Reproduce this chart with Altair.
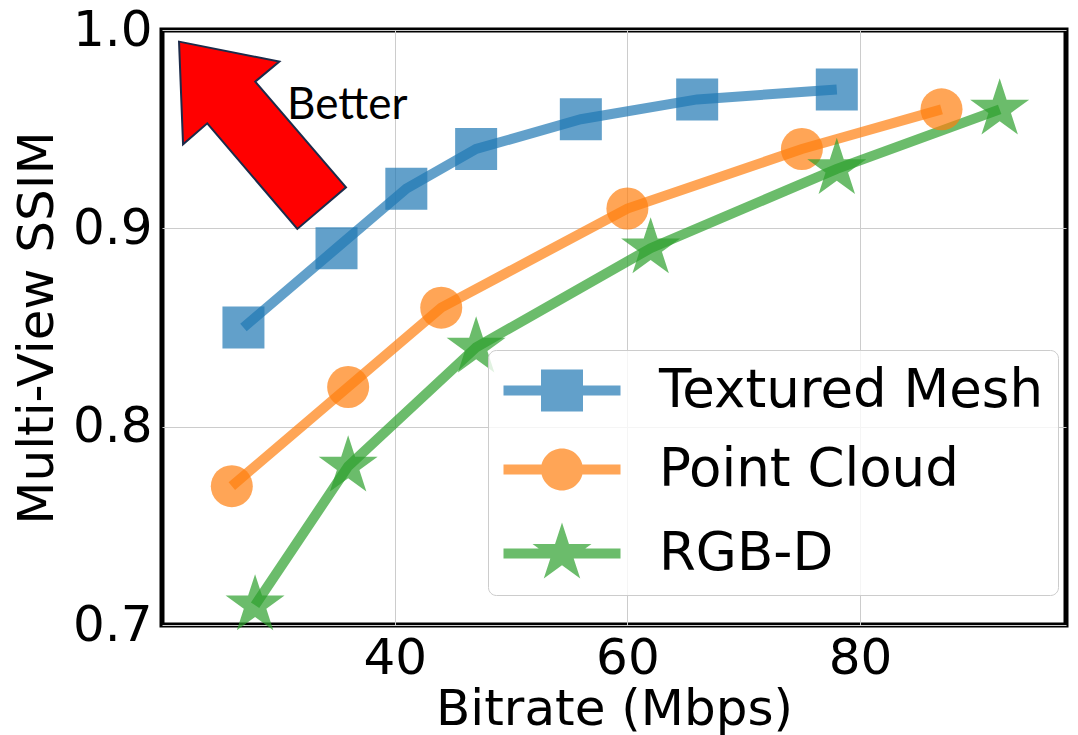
import altair as alt
import pandas as pd
import numpy as np

# ---------------- data ----------------
series_names = ["Textured Mesh", "Point Cloud", "RGB-D"]
series_colors = ["#1f77b4", "#ff7f0e", "#2ca02c"]

mesh_x = [27, 35, 41, 47, 56, 66, 78]
mesh_y = [0.85, 0.89, 0.92, 0.94, 0.955, 0.965, 0.97]

cloud_x = [26, 36, 44, 60, 75, 87]
cloud_y = [0.77, 0.82, 0.86, 0.91, 0.94, 0.96]

rgbd_x = [28, 36, 47, 62, 78, 92]
rgbd_y = [0.71, 0.78, 0.84, 0.89, 0.93, 0.96]

x_ticks = [40, 60, 80]
y_ticks = [0.7, 0.8, 0.9, 1.0]
x_domain = [20.0, 97.7]
y_domain = [0.7, 1.0]

x_title = "Bitrate (Mbps)"
y_title = "Multi-View SSIM"
annot_text = "Better"
annot_x, annot_y = 30.75, 0.9553     # text anchor (data units)
arrow_x, arrow_y = 28.64, 0.947      # arrow centre (data units)

# ---------------- tables ----------------
rows = []
for name, xs, ys in zip(series_names, [mesh_x, cloud_x, rgbd_x], [mesh_y, cloud_y, rgbd_y]):
    for i, (xv, yv) in enumerate(zip(xs, ys)):
        rows.append({"series": name, "x": xv, "y": yv, "idx": i})
df = pd.DataFrame(rows)


# ---------------- shapes ----------------
def star_path(cx, R, r):
    pts = []
    for k in range(10):
        ang = np.pi * k / 5
        rad = R if k % 2 == 0 else r
        pts.append((cx + rad * np.sin(ang), -rad * np.cos(ang)))
    return "M" + " L".join(f"{px:.4f},{py:.4f}" for px, py in pts) + " Z"


point_shapes = ["square", "circle", star_path(0, 1.476, 0.564)]

bar = "M-1,-0.2 L3.68,-0.2 L3.68,0.2 L-1,0.2 Z "
legend_shapes = [
    bar + "M0.5,-0.84 L2.18,-0.84 L2.18,0.84 L0.5,0.84 Z",
    bar + "M0.5,0 A0.84,0.84 0 0 1 2.18,0 A0.84,0.84 0 0 1 0.5,0 Z",
    bar + star_path(1.34, 1.24, 0.474),
]

arrow_path = ("M-0.893,-1.0 L0.180,-0.786 L-0.078,-0.572 L0.893,0.558 "
              "L0.372,1.003 L-0.591,-0.126 L-0.850,0.098 Z")

FONT = "DejaVu Sans"

X = alt.X("x:Q", scale=alt.Scale(domain=x_domain, nice=False, zero=False),
          axis=alt.Axis(values=x_ticks, title=x_title, labelFont=FONT, titleFont=FONT,
                        labelFontSize=50, titleFontSize=50, titleFontWeight="normal",
                        labelColor="black", titleColor="black", ticks=False, domain=False,
                        labelPadding=8, titlePadding=1, gridColor="#cccccc", gridWidth=1,
                        labelFlush=False))
Y = alt.Y("y:Q", scale=alt.Scale(domain=y_domain, nice=False, zero=False),
          axis=alt.Axis(values=y_ticks, format=".1f", title=y_title, labelFont=FONT,
                        titleFont=FONT, labelFontSize=50, titleFontSize=50,
                        titleFontWeight="normal", labelColor="black", titleColor="black",
                        ticks=False, domain=False, labelPadding=10, titlePadding=10,
                        gridColor="#cccccc", gridWidth=1, labelFlush=False))

color_scale = alt.Scale(domain=series_names, range=series_colors)

lines = alt.Chart(df).mark_line(strokeWidth=10, opacity=0.7).encode(
    x=X, y=Y,
    color=alt.Color("series:N", scale=color_scale, legend=None),
    detail="series:N",
    order="idx:Q",
)

points = alt.Chart(df).mark_point(filled=True, opacity=0.7, size=1764, strokeWidth=0).encode(
    x=X, y=Y,
    color=alt.Color("series:N", scale=color_scale, legend=None),
    shape=alt.Shape("series:N", scale=alt.Scale(domain=series_names, range=point_shapes), legend=None),
)

arrow_df = pd.DataFrame({"x": [arrow_x], "y": [arrow_y]})
arrow = alt.Chart(arrow_df).mark_point(
    shape=arrow_path, size=34969, filled=True, fill="#ff0000", stroke="#1c2b4a",
    strokeWidth=2, opacity=1,
).encode(x=X, y=Y)

text_df = pd.DataFrame({"x": [annot_x], "y": [annot_y], "t": [annot_text]})
text = alt.Chart(text_df).mark_text(
    font="Lato", fontSize=44, align="left", baseline="alphabetic", color="black"
).encode(x=X, y=Y, text="t:N")

leg = alt.Legend(
    title=None, orient="none", legendX=326, legendY=320, padding=14,
    fillColor="rgba(255,255,255,0.8)", strokeColor="#cccccc", cornerRadius=8,
    labelFont=FONT, labelFontSize=53, labelColor="black", labelOffset=104,
    rowPadding=25, symbolSize=2500, symbolStrokeWidth=0, symbolOpacity=0.7, labelLimit=0,
)

leg_df = pd.DataFrame({"legend_series": series_names, "x": [50, 50, 50], "y": [0.8, 0.8, 0.8]})
legend_layer = alt.Chart(leg_df).transform_filter("false").mark_point(
    filled=True, opacity=0.7, size=2500
).encode(
    x=X, y=Y,
    color=alt.Color("legend_series:N", scale=alt.Scale(domain=series_names, range=series_colors), legend=leg),
    shape=alt.Shape("legend_series:N", scale=alt.Scale(domain=series_names, range=legend_shapes), legend=leg),
)

chart = alt.layer(lines, points, arrow, text, legend_layer).resolve_scale(
    color="independent", shape="independent"
).properties(
    width=904, height=595,
    autosize=alt.AutoSizeParams(type="none"),
    padding={"left": 154, "top": 22, "right": 4, "bottom": 110},
).configure_view(stroke="black", strokeWidth=5)

chart.save("out.html", embed_options={"renderer": "svg", "actions": False})
